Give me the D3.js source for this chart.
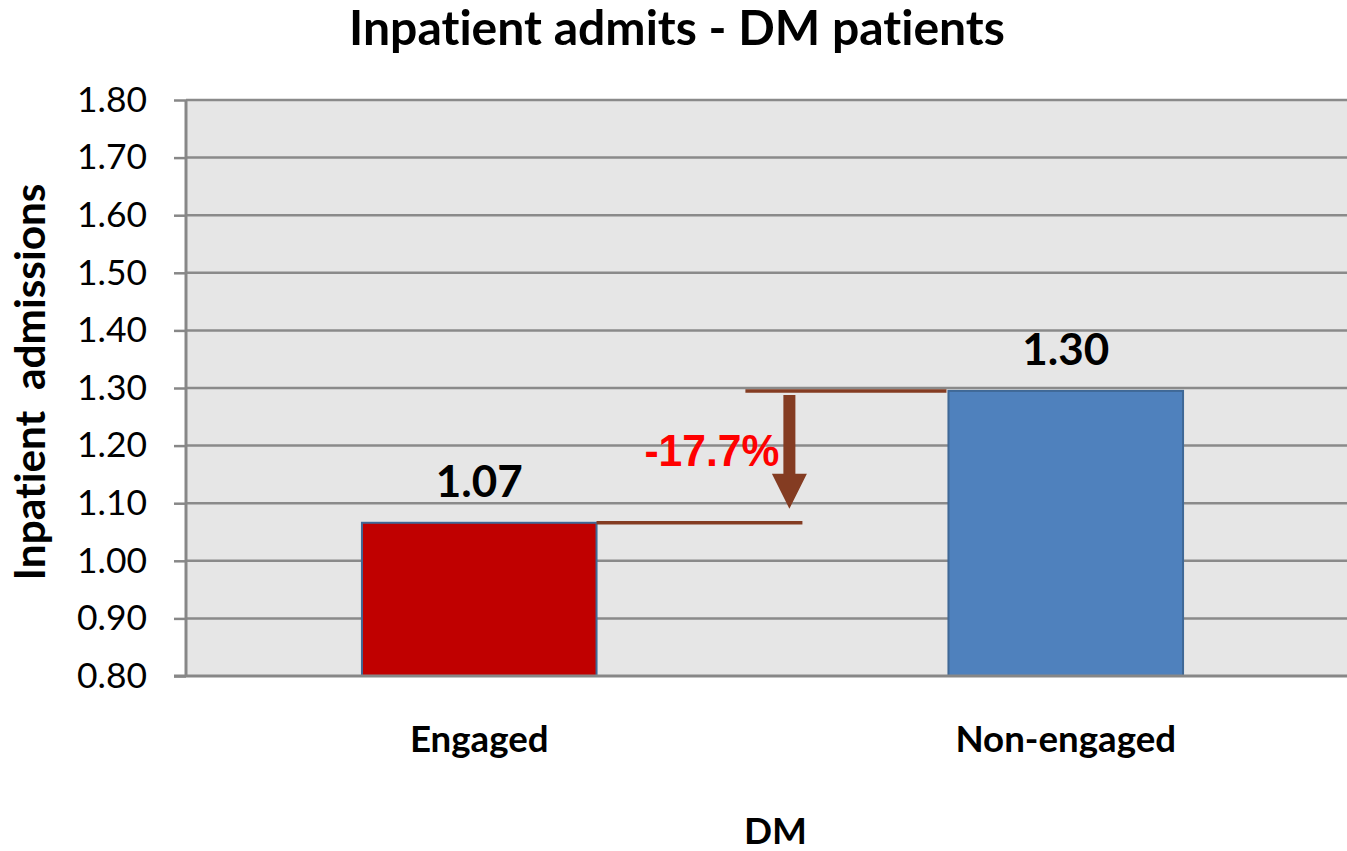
<!DOCTYPE html>
<html>
<head>
<meta charset="utf-8">
<script src="https://cdn.jsdelivr.net/npm/d3@7"></script>
<style>
html,body{margin:0;padding:0;background:#fff;}
svg{display:block;font-variant-ligatures:none;font-feature-settings:"liga" 0;}
</style>
</head>
<body>
<svg id="chart" width="1347" height="851"></svg>
<script>
// ---- data ----
const categories = ["Engaged", "Non-engaged"];
const values = [1.066, 1.295];
const valueLabels = ["1.07", "1.30"];
const barColors = ["#C00000", "#4F81BD"];
const yTicks = [0.80, 0.90, 1.00, 1.10, 1.20, 1.30, 1.40, 1.50, 1.60, 1.70, 1.80];
const changeLabel = "-17.7%";
const titleText = "Inpatient admits - DM patients";
const yTitle = "Inpatient  admissions";
const xTitle = "DM";

(function () {
// ---- layout ----
const svg = d3.select("#chart");
const pL = 186, pR = 1359, pT = 100, pB = 676;
const sans = "Lato, 'Open Sans', sans-serif";

const y = d3.scaleLinear().domain([0.8, 1.8]).range([pB, pT]);
const x = d3.scaleBand().domain(categories).range([pL, pR])
  .paddingInner(0.6).paddingOuter(0.3);

// font fitting helper
function fitSize(text, family, weight, targetW) {
  const t = svg.append("text").attr("font-family", family).attr("font-weight", weight)
    .attr("font-size", 100).style("white-space", "pre").text(text);
  const w = t.node().getComputedTextLength();
  t.remove();
  return 100 * targetW / w;
}

// plot background
svg.append("rect").attr("x", pL).attr("y", pT)
  .attr("width", pR - pL).attr("height", pB - pT).attr("fill", "#E6E6E6");

// gridlines
svg.append("g").selectAll("line").data(yTicks.filter(d => d > 0.8)).join("line")
  .attr("x1", pL).attr("x2", pR)
  .attr("y1", d => y(d)).attr("y2", d => y(d))
  .attr("stroke", "#8A8A8A").attr("stroke-width", 2.5);

// bars
svg.append("g").selectAll("rect").data(values).join("rect")
  .attr("x", (d, i) => x(categories[i]))
  .attr("y", d => y(d))
  .attr("width", x.bandwidth())
  .attr("height", d => pB - y(d))
  .attr("fill", (d, i) => barColors[i])
  .attr("stroke", "#3F6896").attr("stroke-width", 2);

// y axis
const tickSize = fitSize("1.80", sans, 400, 70);
const yAxis = svg.append("g").attr("transform", `translate(${pL},0)`)
  .call(d3.axisLeft(y).tickValues(yTicks).tickFormat(d3.format(".2f"))
    .tickSize(12).tickPadding(27));
yAxis.select(".domain").remove();
yAxis.selectAll(".tick line").attr("stroke", "#878787").attr("stroke-width", 2.5);
yAxis.selectAll(".tick text").attr("font-family", sans).attr("font-size", tickSize)
  .attr("fill", "#000");
svg.append("line").attr("x1", pL).attr("x2", pL).attr("y1", pT).attr("y2", pB)
  .attr("stroke", "#878787").attr("stroke-width", 3);
svg.append("line").attr("x1", pL - 12).attr("x2", pR).attr("y1", pB).attr("y2", pB)
  .attr("stroke", "#878787").attr("stroke-width", 3);

// category labels
const catSize = (fitSize("Engaged", sans, 700, 136) + fitSize("Non-engaged", sans, 700, 225)) / 2;
svg.append("g").selectAll("text").data(categories).join("text")
  .attr("x", d => x(d) + x.bandwidth() / 2).attr("y", 752)
  .attr("text-anchor", "middle").attr("font-family", sans).attr("font-weight", 700)
  .attr("font-size", catSize).text(d => d);

// value labels
const valSize = fitSize("1.07", sans, 700, 87);
svg.append("g").selectAll("text").data(values).join("text")
  .attr("x", (d, i) => x(categories[i]) + x.bandwidth() / 2)
  .attr("y", d => y(d) - 26)
  .attr("text-anchor", "middle").attr("font-family", sans).attr("font-weight", 700)
  .attr("font-size", valSize).text((d, i) => valueLabels[i]);

// title
const titleSize = fitSize(titleText, sans, 700, 656);
svg.append("text").attr("x", 677).attr("y", 45).attr("text-anchor", "middle")
  .attr("font-family", sans).attr("font-weight", 700).attr("font-size", titleSize)
  .text(titleText);

// y title
const yTitleSize = fitSize(yTitle, sans, 700, 397);
svg.append("text").attr("transform", `translate(45,${(pT + pB) / 2 - 6}) rotate(-90)`)
  .attr("text-anchor", "middle").attr("font-family", sans).attr("font-weight", 700)
  .attr("font-size", yTitleSize).style("white-space", "pre")
  .text(yTitle);

// x title
const xTitleSize = fitSize(xTitle, sans, 700, 63);
svg.append("text").attr("x", (pL + pR) / 2 + 3).attr("y", 844).attr("text-anchor", "middle")
  .attr("font-family", sans).attr("font-weight", 700).attr("font-size", xTitleSize)
  .text(xTitle);

// annotation: change between bars
const brown = "#843C22";
const gapStart = x(categories[0]) + x.bandwidth();
const gapEnd = x(categories[1]);
const gap = gapEnd - gapStart;
const yLow = y(values[0]), yHigh = y(values[1]);
svg.append("line").attr("x1", gapStart).attr("x2", gapStart + 0.585 * gap)
  .attr("y1", yLow).attr("y2", yLow).attr("stroke", brown).attr("stroke-width", 3.5);
svg.append("line").attr("x1", gapStart + 0.423 * gap).attr("x2", gapEnd - 2)
  .attr("y1", yHigh).attr("y2", yHigh).attr("stroke", brown).attr("stroke-width", 3.5);
const ax = gapStart + 0.548 * gap;
const shaftTop = yHigh + 4, tip = yLow - 14, headLen = 35, shaftW = 12, headW = 35;
svg.append("path").attr("fill", brown).attr("d", [
  `M${ax - shaftW / 2},${shaftTop}`,
  `L${ax + shaftW / 2},${shaftTop}`,
  `L${ax + shaftW / 2},${tip - headLen}`,
  `L${ax + headW / 2},${tip - headLen}`,
  `L${ax},${tip}`,
  `L${ax - headW / 2},${tip - headLen}`,
  `L${ax - shaftW / 2},${tip - headLen}`, "Z"].join(""));
const pctFont = "'Liberation Sans', Arial, sans-serif";
svg.append("text").attr("x", ax - 10).attr("y", (yLow + yHigh) / 2 + 9)
  .attr("text-anchor", "end").attr("font-family", pctFont)
  .attr("font-weight", 700).attr("font-size", 45).attr("fill", "#FF0000")
  .attr("textLength", 135).attr("lengthAdjust", "spacingAndGlyphs")
  .text(changeLabel);
})();
</script>
</body>
</html>
